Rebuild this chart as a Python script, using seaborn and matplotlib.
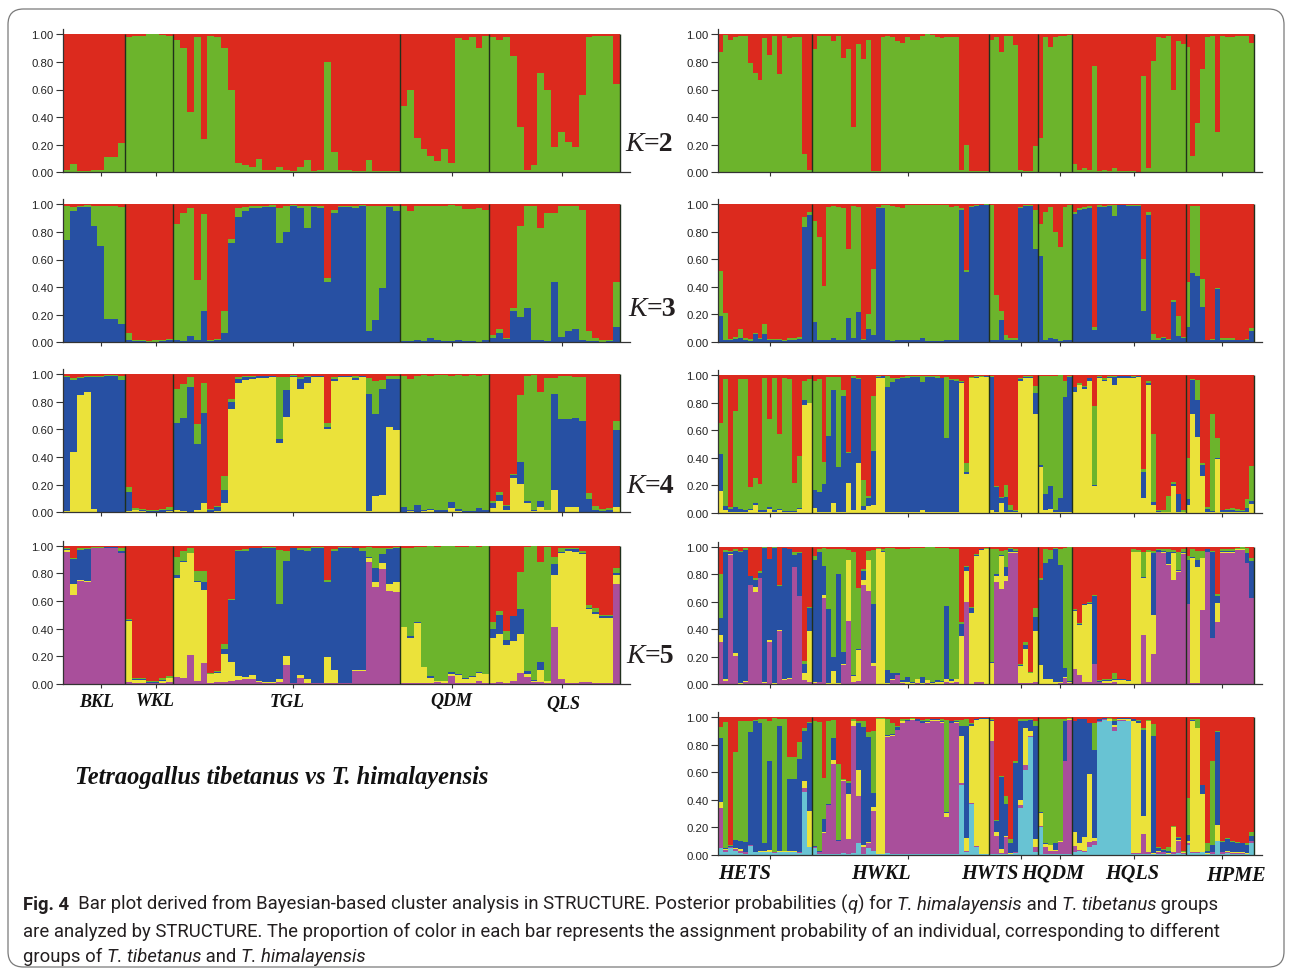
import matplotlib
matplotlib.use("Agg")
import matplotlib.pyplot as plt
from matplotlib.patches import FancyBboxPatch
import seaborn as sns

RED = "#DC2A1E"
GREEN = "#6CB42C"
BLUE = "#2750A3"
YELLOW = "#EBE23A"
PURPLE = "#A94F9B"
CYAN = "#68C3D3"

y_ticks = [0.0, 0.2, 0.4, 0.6, 0.8, 1.0]
left_groups = [9, 7, 33, 13, 19]
right_groups = [19, 36, 10, 7, 23, 14]
left_tick_pos = [5, 13, 33, 56, 72]
right_tick_pos = [10, 38, 61, 69, 84, 102]
left_names = ["BKL", "WKL", "TGL", "QDM", "QLS"]
right_names = ["HETS", "HWKL", "HWTS", "HQDM", "HQLS", "HPME"]

# every row is one individual: cumulative top of each colour, red fills up to 1.0
L2 = [.02,.06,.01,.01,.02,.02,.11,.11,.21,
      .98,.99,.99,1.0,1.0,.995,.99,
      .96,.90,.44,.98,.24,.99,.98,.90,.60,.07,.05,.04,.10,.02,.015,.04,.02,.01,.04,.09,.01,.015,.80,.15,.015,.02,.01,.01,.09,.01,.01,.01,.01,
      .48,.60,.25,.17,.12,.08,.17,.07,.97,.96,.98,.90,.99,
      .98,.96,.98,.84,.33,.02,.05,.72,.60,.18,.29,.22,.18,.56,.98,.99,.99,.99,.64]

L3 = [(.74,.99),(.95,.98),(.98,.99),(.98,.995),(.84,.99),(.70,.99),(.17,.99),(.17,.99),(.13,.98),
      (.015,.07),(.01,.02),(.01,.015),(.005,.01),(.005,.015),(.01,.02),(.015,.025),
      (.015,.86),(.01,.94),(.045,.97),(.02,.455),(.225,.93),(.01,.015),(.02,.025),(.07,.225),(.72,.75),(.91,.97),(.955,.98),(.97,.985),(.975,.99),(.98,.99),(.98,.995),(.72,.97),(.80,.99),(.985,.995),(.975,.985),(.83,.99),(.98,.99),(.975,.99),(.435,.465),(.935,.96),(.98,.99),(.98,.985),(.975,.985),(.985,.995),(.08,.99),(.165,.99),(.395,.99),(.98,.99),(.95,.985),
      (.01,.985),(.01,.95),(.02,.985),(.01,.99),(.03,.99),(.02,.985),(.01,.985),(.01,.995),(.02,.99),(.01,.965),(.01,.965),(.005,.97),(.015,.96),
      (.03,.055),(.065,.10),(.025,.03),(.23,.245),(.18,.84),(.245,.99),(.015,.99),(.02,.83),(.01,.94),(.44,.935),(.04,.985),(.08,.985),(.095,.985),(.015,.96),(.01,.08),(.01,.03),(.005,.02),(.01,.015),(.11,.44)]

L4 = [(.01,.98,.99),(.44,.96,.97),(.85,.975,.98),(.875,.98,.985),(.025,.98,.99),(.005,.98,.99),(0,.985,.995),(0,.985,.995),(0,.96,.985),
      (.01,.145,.18),(.015,.02,.03),(.01,.015,.025),(0,.01,.02),(.005,.01,.015),(.005,.015,.025),(.01,.02,.035),
      (.015,.65,.89),(.01,.68,.93),(.005,.91,.98),(.02,.495,.64),(.065,.72,.94),(.005,.015,.025),(.01,.035,.045),(.065,.165,.26),(.75,.80,.82),(.94,.965,.98),(.96,.98,.985),(.965,.98,.99),(.97,.985,.99),(.975,.985,.99),(.98,.985,.99),(.505,.53,.98),(.69,.885,.98),(.98,.985,.995),(.895,.965,.98),(.94,.98,.99),(.98,.985,.99),(.98,.985,.99),(.605,.615,.645),(.95,.965,.98),(.98,.985,.99),(.98,.985,.99),(.96,.975,.985),(.98,.985,.99),(.01,.855,.97),(.115,.71,.95),(.125,.89,.96),(.62,.965,.985),(.595,.965,.985),
      (.005,.035,.985),(.01,.02,.965),(.005,.05,.99),(.01,.02,.995),(.015,.025,.99),(.005,.015,.995),(.005,.015,.995),(.03,.075,.99),(.01,.025,.995),(.005,.01,.99),(.005,.01,.995),(.005,.03,.99),(.005,.02,.995),
      (.03,.065,.085),(.08,.125,.145),(.02,.045,.055),(.245,.27,.28),(.205,.365,.85),(.07,.085,.99),(.01,.015,.995),(.035,.085,.87),(.015,.02,.975),(.165,.86,.97),(.005,.675,.99),(.04,.675,.99),(.04,.68,.98),(.005,.66,.98),(.005,.095,.14),(.005,.015,.045),(.005,.01,.025),(.005,.015,.03),(.035,.595,.66)]

L5 = [(.955,.97,.975,.985),(.64,.72,.905,.91),(.745,.75,.97,.985),(.74,.745,.975,.985),(.98,.985,.985,.99),(.98,.985,.985,.99),(.985,.985,.99,.99),(.985,.985,.99,.99),(.945,.95,.96,.985),
      (.015,.455,.46,.47),(.005,.03,.035,.04),(.005,.03,.035,.04),(.005,.01,.015,.02),(.005,.01,.015,.02),(.01,.025,.03,.04),(.015,.04,.045,.055),
      (.05,.77,.79,.92),(.045,.885,.89,.96),(.21,.945,.95,.985),(.025,.74,.745,.82),(.155,.68,.74,.82),(.01,.07,.075,.08),(.015,.08,.085,.095),(.015,.22,.255,.29),(.02,.16,.605,.615),(.03,.055,.96,.97),(.035,.05,.965,.975),(.035,.065,.98,.985),(.015,.025,.98,.985),(.01,.015,.985,.99),(.01,.015,.985,.99),(.015,.035,.575,.97),(.135,.20,.89,.965),(.005,.01,.98,.985),(.045,.065,.97,.98),(.01,.035,.965,.98),(.005,.01,.985,.99),(.005,.01,.985,.99),(.005,.195,.735,.755),(.01,.10,.965,.975),(.005,.01,.985,.99),(.005,.01,.985,.99),(.095,.10,.98,.985),(.095,.10,.965,.98),(.88,.91,.915,.99),(.70,.735,.84,.985),(.83,.875,.94,.98),(.675,.72,.975,.985),(.665,.74,.98,.99),
      (.01,.41,.415,.985),(.01,.335,.345,.98),(.01,.44,.445,.99),(.005,.12,.125,.99),(.005,.045,.055,.995),(.015,.02,.025,.99),(.005,.02,.025,.995),(.055,.07,.09,.995),(.01,.065,.07,.99),(.01,.035,.04,.99),(.01,.05,.055,.995),(.025,.08,.085,.99),(.01,.07,.075,.995),
      (.01,.33,.395,.445),(.015,.365,.50,.525),(.005,.28,.32,.38),(.02,.31,.49,.495),(.08,.36,.54,.81),(.05,.07,.095,.99),(.015,.025,.03,.995),(.015,.10,.16,.88),(.005,.02,.025,.99),(.41,.79,.865,.915),(.035,.95,.955,.98),(.01,.96,.975,.985),(.01,.955,.975,.985),(.015,.94,.95,.965),(.015,.54,.55,.57),(.005,.505,.52,.55),(.005,.48,.49,.50),(.005,.48,.49,.50),(.72,.79,.80,.84)]

R2 = [.87,.995,.96,.98,.985,.99,.79,.72,.67,.975,.85,.99,.71,.99,.97,.98,.98,.13,.02,
      .89,.99,.99,.99,.95,.99,.83,.89,.33,.93,.82,.96,.01,.01,.98,.99,.98,.95,.94,.98,.96,.96,.99,1.0,.995,.98,.97,.98,.98,.98,.015,.195,.01,.01,.01,.01,
      .96,.98,.87,.99,.99,.92,.02,.01,.01,.19,
      .25,.98,.91,.98,.99,.99,.995,
      .06,.015,.03,.015,.77,.01,.015,.01,.03,.01,.01,.01,.01,.005,.70,.03,.81,.98,.97,.99,.60,.95,.93,
      .91,.12,.36,.75,.98,.99,.29,.99,.98,.98,.985,.985,.99,.94]

R3 = [(.19,.51),(.01,.21),(.015,.02),(.02,.035),(.025,.09),(.01,.03),(.005,.02),(.055,.06),(.02,.03),(.055,.13),(.01,.02),(.01,.02),(.01,.02),(.005,.015),(.01,.025),(.01,.025),(.02,.035),(.83,.905),(.92,.945),
      (.145,.88),(.01,.76),(.01,.405),(.01,.98),(.03,.985),(.015,.98),(.01,.97),(.17,.67),(.03,.985),(.215,.98),(.01,.02),(.095,.20),(.05,.53),(.97,.98),(.97,.99),(.01,.99),(.005,.985),(.01,.98),(.015,.97),(.015,.99),(.01,.995),(.01,.995),(.025,.995),(.005,.995),(.005,.99),(.005,.99),(.005,.99),(.015,.99),(.015,.98),(.015,.985),(.96,.97),(.505,.52),(.975,.985),(.985,.99),(.99,.995),(.99,1.0),
      (.015,.99),(.015,.34),(.16,.225),(.015,.05),(.01,.025),(.015,.025),(.97,.98),(.985,.99),(.985,.995),(.675,.955),
      (.625,.855),(.01,.94),(.025,.98),(.02,.80),(.005,.685),(.015,.98),(.01,.99),
      (.925,.945),(.955,.97),(.965,.98),(.97,.985),(.085,.105),(.98,.99),(.975,.985),(.985,.995),(.915,.99),(.99,.995),(.99,.995),(.985,.995),(.985,.99),(.985,.99),(.22,.60),(.92,.945),(.015,.055),(.01,.025),(.025,.035),(.01,.02),(.285,.30),(.04,.19),(.03,.035),
      (.11,.43),(.50,.985),(.475,.985),(.25,.455),(.01,.015),(.015,.02),(.38,.39),(.015,.025),(.015,.025),(.015,.03),(.01,.015),(.01,.015),(.01,.02),(.08,.10)]

R4 = [(.16,.43,.65),(.02,.05,.97),(.01,.03,.045),(.01,.04,.74),(.005,.03,.97),(.005,.02,.97),(.02,.03,.19),(.06,.07,.255),(.01,.02,.21),(.01,.02,.98),(.03,.04,.68),(.01,.02,.98),(.025,.03,.575),(.01,.015,.98),(.01,.015,.97),(.01,.015,.215),(.03,.035,.41),(.785,.82,.96),(.80,.80,.97),
      (.035,.165,.96),(.005,.15,.97),(.005,.21,.37),(.005,.56,.985),(.07,.89,.985),(.005,.33,.985),(.005,.85,.89),(.215,.435,.44),(.02,.98,.99),(.36,.97,.98),(.025,.05,.24),(.05,.11,.12),(.055,.45,.85),(.975,.985,.99),(.98,.99,.995),(.005,.915,.99),(.005,.95,.975),(.005,.97,.98),(.005,.975,.985),(.005,.98,.99),(.005,.985,.99),(.005,.985,.99),(.02,.95,.99),(.005,.985,.995),(.005,.985,.99),(.005,.98,.99),(.005,.98,.98),(.005,.54,.985),(.01,.965,.97),(.01,.96,.97),(.94,.95,.96),(.285,.30,.365),(.975,.98,.985),(.98,.985,.99),(.985,.985,.99),(.985,.99,.995),
      (.025,.985,.99),(.01,.19,.195),(.07,.11,.115),(.01,.115,.20),(.01,.02,.06),(.005,.015,.025),(.955,.97,.98),(.975,.985,.99),(.975,.985,.99),(.72,.87,.92),
      (.33,.345,.995),(.02,.14,.995),(.03,.195,.995),(.01,.025,.995),(.01,.11,1.0),(.01,.84,.96),(.01,.985,.99),
      (.875,.91,.915),(.925,.93,.945),(.90,.91,.92),(.955,.975,.98),(.195,.205,.775),(.975,.985,.99),(.955,.965,.98),(.975,.985,.99),(.925,.985,.99),(.98,.99,.995),(.98,.99,.995),(.98,.99,.995),(.975,.985,.99),(.985,.99,.995),(.11,.30,.32),(.93,.945,.96),(.06,.08,.57),(.005,.015,.025),(.005,.01,.02),(.005,.01,.12),(.195,.21,.225),(.005,.14,.14),(.005,.01,.02),
      (.06,.10,.40),(.72,.965,.97),(.55,.82,.965),(.27,.35,.36),(.005,.03,.04),(.005,.015,.72),(.39,.395,.54),(.005,.02,.025),(.005,.02,.03),(.005,.02,.035),(.005,.015,.03),(.005,.015,.025),(.005,.035,.10),(.065,.085,.34)]

R5 = [(.305,.355,.48,.80),(.025,.035,.965,.975),(.94,.945,.965,.97),(.205,.225,.97,.985),(.005,.01,.96,.97),(.02,.025,.975,.99),(.72,.725,.79,.79),(.67,.71,.76,.775),(.77,.775,.81,.82),(.01,.015,.99,.995),(.31,.32,.91,.91),(.005,.01,.99,.995),(.39,.395,.715,.72),(.03,.035,.99,.99),(.04,.045,.98,.985),(.85,.85,.94,.96),(.64,.645,.955,.965),(.03,.085,.15,.17),(.02,.385,.555,.56),
      (.01,.015,.90,.93),(.015,.02,.965,.985),(.63,.65,.86,.99),(.005,.01,.55,.985),(.005,.10,.20,.98),(.005,.01,.80,.98),(.14,.15,.235,.98),(.46,.90,.905,.975),(.015,.06,.065,.96),(.025,.25,.26,.70),(.72,.76,.82,.84),(.68,.90,.90,.97),(.135,.155,.58,.975),(.005,.98,.985,.99),(.005,.96,.97,.98),(.005,.01,.105,.99),(.03,.04,.08,.99),(.065,.07,.085,.98),(.01,.015,.03,.98),(.005,.015,.05,.985),(.005,.01,.02,.99),(.01,.035,.04,.99),(.005,.01,.055,.99),(.01,.03,.03,.995),(.005,.01,.015,.995),(.005,.02,.03,.99),(.005,.02,.025,.99),(.015,.04,.57,.99),(.01,.025,.035,.985),(.02,.035,.04,.98),(.005,.35,.44,.45),(.60,.82,.85,.86),(.005,.52,.555,.56),(.02,.93,.94,.95),(.02,.975,.98,.985),(.005,.98,.985,.99),
      (0,.155,.165,.985),(.74,.79,.80,.98),(.69,.93,.94,.97),(.75,.785,.855,.975),(.955,.96,.98,.99),(.955,.96,.97,.98),(.01,.13,.14,.15),(.01,.26,.285,.305),(.01,.08,.085,.09),(.02,.39,.49,.555),
      (.005,.14,.76,.77),(.005,.04,.88,.98),(.005,.035,.91,.975),(.005,.015,.985,.99),(.01,.02,.87,.985),(.045,.05,.115,.99),(.01,.015,.025,.995),
      (.11,.53,.54,.55),(.07,.43,.44,.445),(.015,.575,.58,.585),(.015,.585,.59,.60),(.145,.15,.645,.65),(.015,.02,.025,.03),(.01,.025,.03,.04),(.01,.025,.03,.04),(.015,.03,.04,.085),(.005,.03,.035,.04),(.005,.03,.035,.035),(.005,.025,.03,.03),(.005,.96,.965,.98),(.005,.96,.965,.975),(.36,.77,.78,.965),(.02,.96,.965,.975),(.22,.505,.955,.97),(.96,.965,.975,.985),(.955,.96,.97,.98),(.87,.875,.965,.985),(.76,.955,.965,.975),(.815,.82,.83,.965),(.95,.955,.965,.985),
      (.58,.585,.90,.93),(.01,.92,.925,.985),(.01,.855,.90,.97),(.54,.915,.92,.97),(.96,.965,.98,.985),(.335,.34,.96,.97),(.45,.59,.64,.655),(.955,.965,.97,.985),(.955,.965,.97,.985),(.955,.965,.97,.985),(.975,.98,.985,.99),(.975,.98,.985,.995),(.88,.885,.955,.99),(.625,.63,.895,.915)]

R6 = [(.05,.34,.385,.85,.93),(.025,.035,.04,.05,.965),(.05,.055,.06,.065,.07),(.03,.045,.05,.11,.75),(.015,.03,.045,.10,.97),(.01,.02,.025,.095,.975),(.065,.07,.075,.89,.975),(.02,.025,.025,.97,.98),(.02,.025,.03,.955,.985),(.02,.025,.03,.09,.99),(.02,.025,.035,.685,.975),(.015,.02,.02,.02,.995),(.02,.025,.03,.94,.99),(.02,.025,.03,.03,.99),(.02,.025,.03,.55,.715),(.02,.025,.03,.55,.715),(.015,.02,.025,.70,.82),(.46,.49,.535,.90,.92),(.055,.06,.32,.955,.965),
      (.05,.06,.06,.065,.975),(.01,.02,.025,.03,.965),(.01,.16,.165,.26,.56),(.005,.36,.365,.37,.97),(.005,.66,.69,.85,.98),(.005,.10,.105,.11,.66),(.015,.54,.545,.545,.55),(.005,.115,.445,.525,.535),(.015,.935,.97,.975,.985),(.09,.43,.615,.96,.97),(.01,.06,.07,.93,.97),(.05,.085,.095,.86,.89),(.03,.32,.35,.45,.90),(.005,.01,.985,.99,.995),(.005,.01,.985,.99,.995),(.015,.86,.865,.875,.985),(.005,.865,.87,.88,.955),(.005,.905,.91,.93,.94),(.005,.96,.97,.975,.985),(.005,.97,.975,.98,.99),(.005,.98,.985,.99,.995),(.005,.97,.975,.985,.99),(.005,.955,.96,.97,.98),(.005,.96,.965,.975,.99),(.005,.975,.98,.985,.99),(.005,.975,.98,.985,.99),(.005,.96,.965,.975,.985),(.005,.275,.305,.31,.98),(.005,.955,.96,.97,.975),(.005,.955,.965,.975,.98),(.51,.525,.865,.935,.98),(.02,.03,.125,.94,.985),(.37,.375,.94,.95,.96),(.06,.065,.98,.985,.99),(.005,.01,.99,.995,.995),(.005,.01,.99,.995,.995),
      (.005,.825,.97,.98,.985),(.005,.135,.17,.25,.255),(.005,.015,.045,.565,.575),(.01,.13,.14,.37,.43),(.005,.01,.015,.085,.115),(.015,.02,.025,.67,.68),(.34,.36,.40,.975,.985),(.615,.655,.925,.975,.985),(.855,.865,.90,.98,.985),(.02,.06,.115,.94,.97),
      (.205,.21,.305,.315,.985),(.005,.06,.08,.09,.99),(.005,.03,.07,.075,.99),(.005,.03,.035,.09,.99),(.005,.095,.10,.10,.99),(.005,.68,.685,.975,.985),(.005,.98,.985,.99,.995),
      (.025,.065,.165,.97,.975),(.03,.035,.085,.985,.99),(.025,.03,.13,.985,.99),(.06,.095,.59,.955,.96),(.075,.105,.125,.76,.955),(.965,.97,.975,.985,.99),(.98,.985,.99,.995,.995),(.97,.975,.985,.99,.995),(.90,.93,.945,.975,.985),(.975,.98,.99,.995,.995),(.975,.98,.99,.995,.995),(.97,.975,.99,.995,.995),(.01,.015,.97,.985,.99),(.01,.015,.96,.97,.98),(.01,.155,.285,.91,.925),(.01,.02,.97,.975,.98),(.005,.01,.015,.865,.95),(.01,.025,.03,.05,.055),(.01,.02,.025,.035,.04),(.005,.01,.015,.03,.055),(.01,.02,.20,.205,.21),(.015,.105,.11,.125,.13),(.005,.015,.02,.025,.03),
      (.07,.09,.10,.145,.415),(.015,.025,.975,.98,.985),(.015,.02,.92,.925,.99),(.02,.025,.44,.505,.51),(.005,.01,.015,.03,.085),(.01,.02,.025,.07,.685),(.10,.105,.215,.89,.90),(.01,.02,.025,.095,.10),(.015,.025,.03,.115,.12),(.01,.015,.02,.095,.10),(.01,.015,.02,.09,.095),(.01,.015,.02,.085,.09),(.005,.01,.015,.075,.085),(.09,.10,.105,.135,.165)]

W, H = 1290, 979
sns.set_style("ticks")
plt.rcParams["font.family"] = ["Liberation Sans", "DejaVu Sans"]
fig = plt.figure(figsize=(W / 100, H / 100), dpi=100)


def draw_panel(x0, x1, y1, y0, rows, colors, groups, tick_pos, n_extra):
    n = len(rows)
    step = (x1 - x0) / n
    head = 0.035 * (y0 - y1)
    ax = fig.add_axes([x0 / W, 1 - y0 / H, (x1 - x0 + n_extra * step) / W, (y0 - y1 + head) / H])
    xs = list(range(n))
    sns.barplot(x=xs, y=[1.0] * n, color=RED, width=1, saturation=1, linewidth=0, antialiased=False, ax=ax)
    # paint from the top colour downwards, each layer hides the rest of the one before
    for j in reversed(range(len(colors))):
        tops = [r[j] if isinstance(r, tuple) else r for r in rows]
        sns.barplot(x=xs, y=tops, color=colors[j], width=1, saturation=1, linewidth=0, antialiased=False, ax=ax)
    edge = 0
    for g in groups:
        edge += g
        ax.vlines(edge - 0.5, 0, 1, color="#20301c", lw=1.0)
    ax.set_xlim(-0.5, n - 0.5 + n_extra)
    ax.set_ylim(0, 1.035)
    ax.set_yticks(y_ticks)
    ax.set_yticklabels([f"{v:.2f}" for v in y_ticks], fontsize=8.2, color="#222222")
    ax.set_xticks(tick_pos)
    ax.set_xticklabels([])
    ax.tick_params(axis="y", length=5, width=0.8, pad=2, color="#333333")
    ax.tick_params(axis="x", length=3, width=0.8, color="#333333")
    ax.patch.set_alpha(0)
    for s in ["top", "right"]:
        ax.spines[s].set_visible(False)
    for s in ["left", "bottom"]:
        ax.spines[s].set_color("#333333")
        ax.spines[s].set_linewidth(0.9)
    return ax


draw_panel(63, 620, 35.3, 173.3, L2, [GREEN], left_groups, left_tick_pos, 1.5)
draw_panel(63, 620, 205.3, 343.3, L3, [BLUE, GREEN], left_groups, left_tick_pos, 1.5)
draw_panel(63, 620, 375.3, 513.3, L4, [YELLOW, BLUE, GREEN], left_groups, left_tick_pos, 1.5)
draw_panel(63, 620, 546.7, 685, L5, [PURPLE, YELLOW, BLUE, GREEN], left_groups, left_tick_pos, 1.5)
draw_panel(718.2, 1254.4, 35.3, 173.3, R2, [GREEN], right_groups, right_tick_pos, 1.5)
draw_panel(718.2, 1254.4, 205, 342.7, R3, [BLUE, GREEN], right_groups, right_tick_pos, 1.5)
draw_panel(718.2, 1254.4, 376, 514, R4, [YELLOW, BLUE, GREEN], right_groups, right_tick_pos, 1.5)
draw_panel(718.2, 1254.4, 547.7, 685.3, R5, [PURPLE, YELLOW, BLUE, GREEN], right_groups, right_tick_pos, 1.5)
draw_panel(718.2, 1254.4, 718.3, 856, R6, [CYAN, PURPLE, YELLOW, BLUE, GREEN], right_groups, right_tick_pos, 1.5)

SERIF = ["Liberation Serif", "DejaVu Serif"]


def px_text(x, y, s, **kw):
    return fig.text(x / W, 1 - y / H, s, va="baseline", **kw)


def runs(x, y, parts, size, family):
    # one line with mixed styles, each run starts where the last one stopped
    r = fig.canvas.get_renderer()
    for s, style, weight in parts:
        t = px_text(x, y, s, fontsize=size, family=family, style=style, weight=weight, color="#231f20")
        x += t.get_window_extent(r).width


for xk, yk, lab in [(625, 151, "2"), (628, 316, "3"), (626, 493, "4"), (626, 663, "5")]:
    runs(xk, yk, [("K", "italic", "normal"), ("=" + lab, "normal", "bold")], 20, SERIF)

for name, xc, yc in zip(left_names, [97, 155, 287, 451, 563], [707, 706, 707, 706, 709]):
    px_text(xc, yc, name, fontsize=13, family=SERIF, style="italic", weight="bold", ha="center", color="#111111")
for name, xc, yc in zip(right_names, [745, 881, 990, 1053, 1132, 1236], [879, 879, 879, 879, 879, 881]):
    px_text(xc, yc, name, fontsize=14.6, family=SERIF, style="italic", weight="bold", ha="center", color="#111111")

px_text(75, 784, "Tetraogallus tibetanus vs T. himalayensis", fontsize=17.65, family=SERIF,
        style="italic", weight="bold", color="#111111")

CAP = ["Roboto", "DejaVu Sans"]
runs(23, 910, [("Fig. 4", "normal", "bold"), ("  Bar plot derived from Bayesian-based cluster analysis in STRUCTURE. Posterior probabilities (", "normal", "normal"),
               ("q", "italic", "normal"), (") for ", "normal", "normal"), ("T. himalayensis", "italic", "normal"), (" and ", "normal", "normal"),
               ("T. tibetanus", "italic", "normal"), (" groups", "normal", "normal")], 13.3, CAP)
runs(23, 937, [("are analyzed by STRUCTURE. The proportion of color in each bar represents the assignment probability of an individual, corresponding to different", "normal", "normal")], 13.3, CAP)
runs(23, 962, [("groups of ", "normal", "normal"), ("T. tibetanus", "italic", "normal"), (" and ", "normal", "normal"), ("T. himalayensis", "italic", "normal")], 13.3, CAP)

frame = FancyBboxPatch((8 / W, 1 - 968 / H), 1276 / W, 958 / H, boxstyle="round,pad=0,rounding_size=0.012",
                       transform=fig.transFigure, fill=False, ec="#7a7a7a", lw=0.9, mutation_aspect=W / H)
fig.add_artist(frame)

fig.savefig("out.png", dpi=100)
